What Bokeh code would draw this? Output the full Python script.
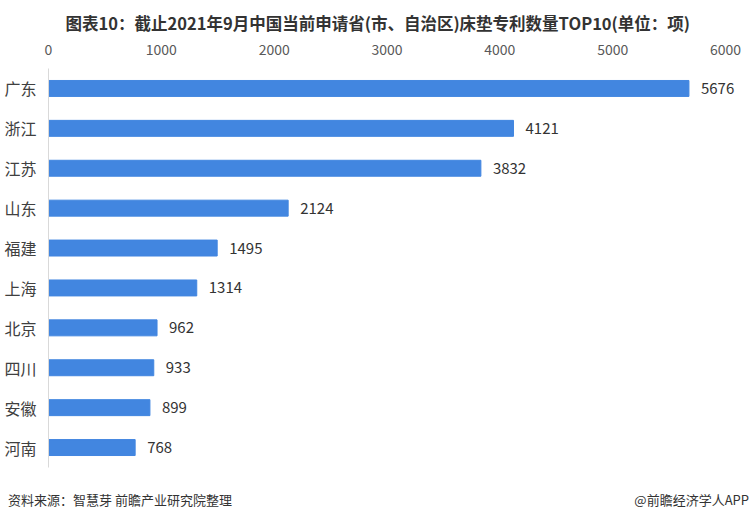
from bokeh.plotting import figure
from bokeh.models import ColumnDataSource, LabelSet, Range1d, FactorRange, Div
from bokeh.layouts import column
from bokeh.core.properties import value
from bokeh.embed import file_html
from bokeh.resources import INLINE

provinces = ["广东", "浙江", "江苏", "山东", "福建", "上海", "北京", "四川", "安徽", "河南"]
counts = [5676, 4121, 3832, 2124, 1495, 1314, 962, 933, 899, 768]
x_ticks = [0, 1000, 2000, 3000, 4000, 5000, 6000]

title_text = "图表10：截止2021年9月中国当前申请省(市、自治区)床垫专利数量TOP10(单位：项)"
source_text = "资料来源：智慧芽 前瞻产业研究院整理"
brand_text = "@前瞻经济学人APP"

FONT = "Noto Sans CJK SC"
BAR = "#4286E0"

W = 751
FIG_H, FOOT_H = 480, 42
LEFT, RIGHT, TOP, BOTTOM = 48, 6, 68, 13
x_end = 6000 * (W - RIGHT - LEFT) / (725 - LEFT)

src = ColumnDataSource(dict(prov=provinces, cnt=counts, lab=[str(c) for c in counts]))

p = figure(width=W, height=FIG_H, output_backend="svg", toolbar_location=None,
           y_range=FactorRange(factors=list(reversed(provinces))),
           x_range=Range1d(0, x_end), x_axis_location="above",
           min_border_left=LEFT, min_border_right=RIGHT, min_border_top=TOP,
           min_border_bottom=BOTTOM)
p.outline_line_color = None
p.grid.visible = False
p.background_fill_color = "white"

p.hbar(y="prov", right="cnt", height=0.4, source=src, color=BAR)

p.add_layout(LabelSet(x="cnt", y="prov", text="lab", source=src, x_offset=12,
                      text_baseline="middle", text_font=value(FONT), text_font_size="15px",
                      text_color="#333333"))

xa = p.xaxis[0]
xa.ticker = x_ticks
xa.axis_line_color = None
xa.major_tick_line_color = None
xa.minor_tick_line_color = None
xa.major_tick_out = 0
xa.major_tick_in = 0
xa.minor_tick_out = 0
xa.major_label_text_font = FONT
xa.major_label_text_font_size = "14px"
xa.major_label_text_color = "#595959"
xa.major_label_standoff = 14

ya = p.yaxis[0]
ya.axis_line_color = "#d9d9d9"
ya.major_tick_line_color = None
ya.minor_tick_line_color = None
ya.major_tick_out = 0
ya.major_tick_in = 0
ya.minor_tick_out = 0
ya.major_label_text_font = FONT
ya.major_label_text_font_size = "16px"
ya.major_label_text_color = "#404040"
ya.major_label_standoff = 12

p.title.text = title_text
p.title.align = "left"
p.title.offset = 17
p.title.text_font = FONT
p.title.text_font_size = "16.5px"
p.title.text_font_style = "bold"
p.title.text_color = "#333333"
p.title.standoff = 12

footer_html = (
    f'<div style="position:relative;width:{W}px;height:{FOOT_H}px;'
    f"font-family:'{FONT}';font-size:13px;line-height:18px;color:#333333;\">"
    f'<span style="position:absolute;left:8px;top:11px;white-space:nowrap;">{source_text}</span>'
    f'<span style="position:absolute;right:2px;top:11px;white-space:nowrap;">{brand_text}</span>'
    '</div>'
)
footer = Div(text=footer_html, width=W, height=FOOT_H, margin=0)

layout = column(p, footer, spacing=0)

open("out.html", "w").write(file_html(layout, INLINE))
